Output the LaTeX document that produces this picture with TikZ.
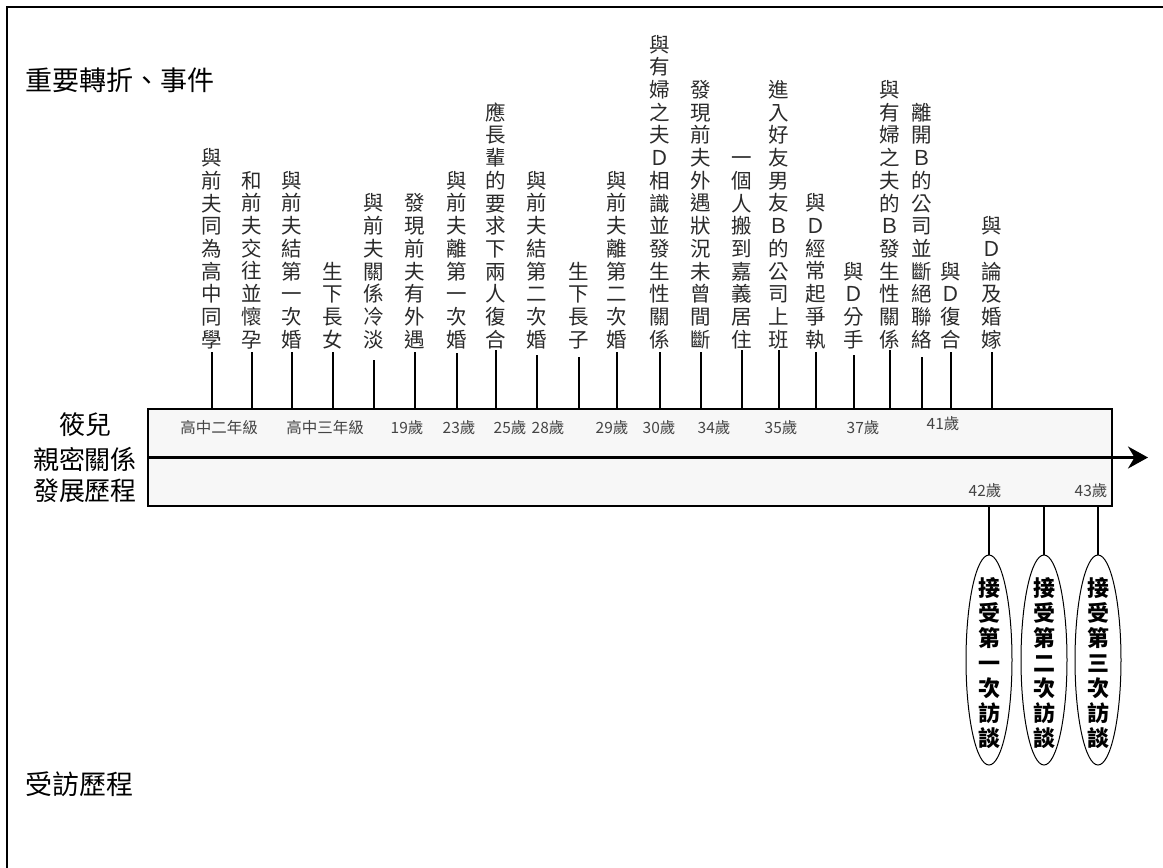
\documentclass[tikz,border=0pt]{standalone}
\usepackage{fontspec}
\setmainfont{Noto Sans CJK TC}
\usetikzlibrary{arrows.meta,shapes.geometric}
\definecolor{boxgray}{HTML}{F7F7F7}
\definecolor{txtgray}{HTML}{2A2A2A}
\definecolor{agegray}{HTML}{444444}
\makeatletter
\newcommand\vstack[2]{\vbox{\baselineskip=#1\relax\lineskiplimit=-100pt\lineskip=0pt\expandafter\vstack@i\expandafter{#2}}}
\def\vstack@i#1{\@tfor\vch:=#1\do{\hbox to 1.2em{\hss\vch\hss}}}
\makeatother
\tikzset{
  frame/.style={line width=1.5pt},
  tickline/.style={line width=2.6pt},
  evt/.style={inner sep=0pt, anchor=south, text=txtgray, font=\fontsize{20.5}{20.5}\selectfont},
  age/.style={inner sep=0pt, text=agegray, font=\fontsize{15.5}{15.5}\selectfont},
  heading/.style={inner sep=0pt, anchor=west, font=\fontsize{27}{27}\selectfont},
  side/.style={inner sep=0pt, font=\fontsize{26}{26}\selectfont},
  visit/.style={draw, ellipse, line width=1pt, minimum width=46pt, minimum height=210pt, inner sep=0pt},
  visittxt/.style={inner sep=0pt, font=\fontsize{22}{22}\selectfont\bfseries},
}
\begin{document}
\begin{tikzpicture}[x=1pt,y=-1pt]
\useasboundingbox (0,0) rectangle (1163,868);
% frame
\draw[frame] (7,868) -- (7,7) -- (1163,7);
% headings
\node[heading] (h1) at (25,80) {重要轉折、事件};
\node[heading] (h2) at (25,784) {受訪歷程};
\node[side] (s1) at (85,425) {筱兒};
\node[side] (s2) at (85,459) {親密關係};
\node[side] (s3) at (85,491) {發展歷程};
% box
\node[draw, line width=2pt, fill=boxgray, minimum width=964pt, minimum height=97pt, inner sep=0pt] (box) at (630,457.5) {};
\coordinate (tip) at (1148,457.5);
\draw[line width=2.6pt, -{Stealth[length=20pt,width=22pt]}] (box.west) -- (tip);
% events
\foreach \ex/\ey/\et [count=\i] in {
  212/352/與前夫同為高中同學,
  252/352/和前夫交往並懷孕,
  292/352/與前夫結第一次婚,
  333/352/生下長女,
  374/360/與前夫關係冷淡,
  415/352/發現前夫有外遇,
  457/353/與前夫離第一次婚,
  496/350/應長輩的要求下兩人復合,
  537/355/與前夫結第二次婚,
  579/357/生下長子,
  617/352/與前夫離第二次婚,
  660/352/與有婦之夫Ｄ相識並發生性關係,
  701/352/發現前夫外遇狀況未曾間斷,
  742/350/一個人搬到嘉義居住,
  779/350/進入好友男友Ｂ的公司上班,
  816/352/與Ｄ經常起爭執,
  854/355/與Ｄ分手,
  890/350/與有婦之夫的Ｂ發生性關係,
  922/357/離開Ｂ的公司並斷絕聯絡,
  951/352/與Ｄ復合,
  992/352/與Ｄ論及婚嫁}{
  \coordinate (t\i) at (\ex,\ey);
  \draw[tickline] (t\i) -- (t\i |- box.north);
  \node[evt] (e\i) at (\ex,349) {\vstack{22.7pt}{\et}};
}
% ages
\foreach \ax/\ay/\at [count=\j] in {
  219/428/高中二年級, 325/428/高中三年級, 407/428/19歲, 459/428/23歲,
  510/428/25歲, 548/428/28歲, 612/428/29歲, 659/428/30歲, 714/428/34歲,
  781/428/35歲, 863/428/37歲, 943/424/41歲, 985/491/42歲, 1091/491/43歲}{
  \node[age] (a\j) at (\ax,\ay) {\at};
}
% visits
\foreach \vx/\vt [count=\k] in {989/接受第一次訪談, 1044/接受第二次訪談, 1098/接受第三次訪談}{
  \node[visit] (v\k) at (\vx,660) {};
  \node[visittxt] (vt\k) at (\vx,663) {\vstack{25pt}{\vt}};
  \draw[tickline] (v\k.north) -- (v\k.north |- box.south);
}
\end{tikzpicture}
\end{document}
